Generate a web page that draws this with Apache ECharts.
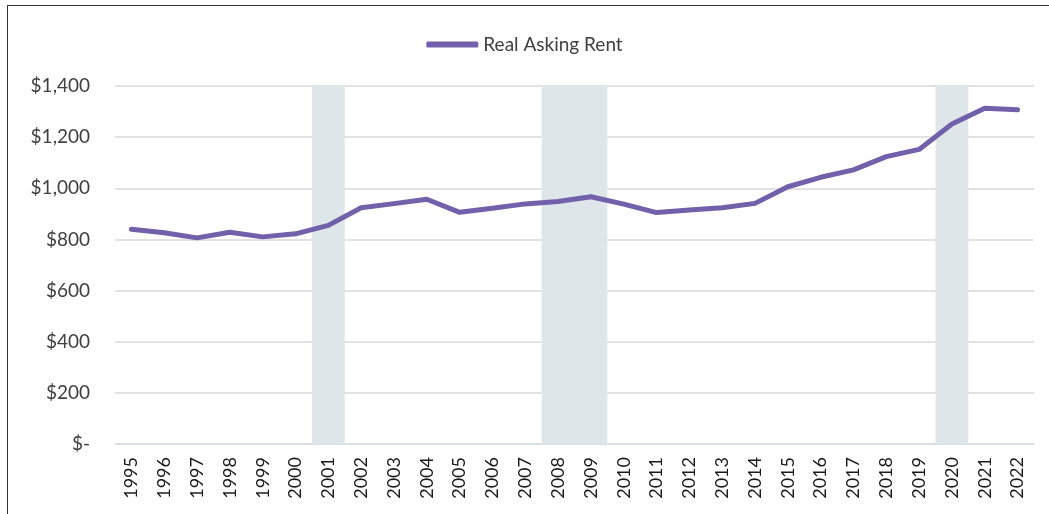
<!DOCTYPE html>
<html>
<head>
<meta charset="utf-8">
<script src="https://cdn.jsdelivr.net/npm/echarts@6/dist/echarts.min.js"></script>
<style>
  html, body { margin: 0; padding: 0; background: #fff; }
  .frame {
    position: absolute;
    left: 7px;
    top: 5px;
    width: 1042px;
    height: 509px;
    border-left: 1.5px solid #333;
    border-top: 1.5px solid #333;
    box-sizing: border-box;
  }
  #chart { position: absolute; left: 0; top: 0; width: 1049px; height: 514px; }
</style>
</head>
<body>
<div class="frame"></div>
<div id="chart"></div>
<script>
const years = ['1995', '1996', '1997', '1998', '1999', '2000', '2001', '2002', '2003', '2004',
  '2005', '2006', '2007', '2008', '2009', '2010', '2011', '2012', '2013', '2014',
  '2015', '2016', '2017', '2018', '2019', '2020', '2021', '2022']
const rent = [840, 826, 806, 828, 810, 822, 855, 924, 940, 957,
  906, 922, 939, 948, 967, 938, 905, 915, 924, 941,
  1006, 1043, 1072, 1124, 1152, 1251, 1313, 1307]
// recession periods (first year, last year), shaded full height
const recessions = [['2001', '2001'], ['2008', '2009'], ['2020', '2020']]
const yTicks = { 0: '$-', 200: '$200', 400: '$400', 600: '$600', 800: '$800', 1000: '$1,000', 1200: '$1,200', 1400: '$1,400' }

const font = 'Lato, "Open Sans", sans-serif'

const chart = echarts.init(document.getElementById('chart'))
chart.setOption({
  animation: false,
  legend: {
    top: 30,
    left: 'center',
    data: ['Real Asking Rent'],
    itemWidth: 52,
    itemHeight: 6,
    itemGap: 2,
    icon: 'roundRect',
    textStyle: { fontFamily: font, fontSize: 19, color: '#404040' }
  },
  grid: { left: 115, right: 15, top: 86, bottom: 70 },
  xAxis: {
    type: 'category',
    data: years,
    boundaryGap: true,
    axisTick: { show: false },
    axisLine: { lineStyle: { color: '#d6dde3', width: 1.5 } },
    axisLabel: {
      rotate: 90,
      interval: 0,
      margin: 13,
      fontFamily: font,
      fontSize: 18,
      color: '#1a1a1a'
    }
  },
  yAxis: {
    type: 'value',
    min: 0,
    max: 1400,
    interval: 200,
    axisLine: { show: false },
    axisTick: { show: false },
    splitLine: { lineStyle: { color: '#d9d9d9', width: 1.5 } },
    axisLabel: {
      margin: 25,
      fontFamily: font,
      fontSize: 19,
      color: '#404040',
      formatter: v => yTicks[v]
    }
  },
  series: [
    {
      name: 'Recession',
      type: 'custom',
      data: recessions,
      encode: { x: [0, 1] },
      renderItem (params, api) {
        const bw = api.size([1, 0])[0]
        const top = api.coord([api.value(0), 1400])
        const bottom = api.coord([api.value(1), 0])
        return {
          type: 'rect',
          shape: {
            x: top[0] - bw / 2,
            y: top[1],
            width: bottom[0] - top[0] + bw,
            height: bottom[1] - top[1]
          },
          style: { fill: '#dfe6ea' }
        }
      },
      z: 1
    },
    {
      name: 'Real Asking Rent',
      type: 'line',
      data: rent,
      symbol: 'none',
      lineStyle: { color: '#7161ab', width: 5, cap: 'round', join: 'round' },
      itemStyle: { color: '#7161ab' },
      z: 3
    }
  ]
})
</script>
</body>
</html>
